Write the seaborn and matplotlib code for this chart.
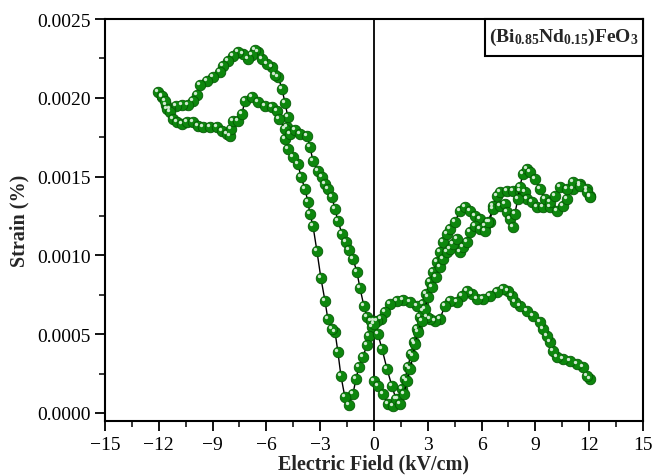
import numpy as np
import pandas as pd
import matplotlib
matplotlib.use("Agg")
import matplotlib.pyplot as plt
import matplotlib.transforms as mtransforms
from matplotlib.ticker import MultipleLocator, FormatStrFormatter
from matplotlib.patches import Rectangle
import seaborn as sns

# ---- data: first rising branch (0 -> +12 kV/cm)
e_rise1 = [0.00, 0.22, 0.50, 0.78, 1.06, 1.34, 1.56, 1.73, 1.90, 2.06, 2.23, 2.40, 2.57, 2.73,
           2.90, 3.12, 3.29, 3.51, 3.68, 3.85, 4.07, 4.24, 4.52, 4.80, 5.08, 5.35, 5.63, 5.91,
           6.19, 6.47, 6.64, 6.86, 7.03, 7.42, 7.75, 8.14, 8.42, 8.53, 8.81, 9.09, 9.43, 9.82,
           10.21, 10.54, 10.76, 11.10, 11.49, 11.88, 12.05]
s_rise1 = [0.000203, 0.000172, 0.000121, 0.000057, 0.000044, 0.000089, 0.000152, 0.000216,
           0.000292, 0.000375, 0.000451, 0.000534, 0.000610, 0.000692, 0.000756, 0.000832,
           0.000896, 0.000959, 0.001023, 0.001086, 0.001137, 0.001169, 0.001213, 0.001283,
           0.001309, 0.001283, 0.001252, 0.001232, 0.001188, 0.001213, 0.001315, 0.001379,
           0.001404, 0.001410, 0.001410, 0.001410, 0.001404, 0.001360, 0.001340, 0.001309,
           0.001309, 0.001309, 0.001283, 0.001315, 0.001360, 0.001423, 0.001455, 0.001423,
           0.001379]

# ---- data: +12 -> 0 -> -12 -> 0 -> +12 (continuous loop)
e_loop = [12.05, 11.88, 11.66, 11.32, 10.93, 10.54, 10.21, 9.98, 9.82, 9.65, 9.43, 9.26, 8.87,
          8.53, 8.14, 7.86, 7.70, 7.47, 7.19, 6.86, 6.47, 6.08, 5.74, 5.47, 5.19, 4.91, 4.63,
          4.24, 3.96, 3.68, 3.40, 3.12, 2.96, 2.73, 2.40, 2.01, 1.62, 1.28, 0.89, 0.61, 0.39,
          0.17, 0.00,
          -0.11, -0.28, -0.39, -0.61, -0.84, -1.00, -1.17, -1.39, -1.62, -1.84, -2.01, -2.17,
          -2.34, -2.57, -2.73, -2.96, -3.18, -3.40, -3.57, -3.68, -3.85, -4.07, -4.24, -4.52,
          -4.80, -4.96, -4.85, -4.80, -4.96, -5.13, -5.35, -5.52, -5.69, -5.97, -6.25, -6.47,
          -6.64, -6.80, -7.03, -7.31, -7.59, -7.86, -8.14, -8.42, -8.59, -8.98, -9.31, -9.70,
          -9.87, -10.09, -10.37, -10.71, -11.04, -11.38, -11.60, -11.82, -12.05,
          -11.82, -11.66, -11.54, -11.38, -11.21, -10.99, -10.71, -10.43, -10.09, -9.82, -9.54,
          -9.15, -8.76, -8.48, -8.20, -8.03, -7.98, -7.86, -7.59, -7.36, -7.19, -6.80, -6.47,
          -6.08, -5.69, -5.41, -5.30, -4.96, -4.68, -4.41, -4.13, -3.74, -3.57, -3.40, -3.12,
          -2.90, -2.73, -2.57, -2.34, -2.18, -2.01, -1.78, -1.56, -1.39, -1.17, -0.95, -0.78,
          -0.56, -0.39, -0.17, 0.00,
          0.22, 0.45, 0.73, 1.00, 1.23, 1.45, 1.67, 1.84, 2.01, 2.18, 2.29, 2.45, 2.68, 2.84,
          3.01, 3.23, 3.46, 3.68, 3.85, 4.07, 4.24, 4.41, 4.63, 4.80, 4.96, 5.19, 5.35, 5.63,
          5.91, 6.19, 6.36, 6.64, 7.03, 7.31, 7.42, 7.59, 7.75, 7.86, 8.03, 8.14, 8.31, 8.53,
          8.70, 8.98, 9.26, 9.54, 9.82, 10.09, 10.37, 10.76, 11.10, 11.49, 11.88, 12.05]
s_loop = [0.000216, 0.000235, 0.000292, 0.000311, 0.000330, 0.000343, 0.000356, 0.000394,
          0.000451, 0.000489, 0.000534, 0.000578, 0.000616, 0.000648, 0.000680, 0.000705,
          0.000743, 0.000775, 0.000788, 0.000769, 0.000743, 0.000724, 0.000724, 0.000756,
          0.000775, 0.000743, 0.000705, 0.000712, 0.000680, 0.000597, 0.000584, 0.000597,
          0.000610, 0.000648, 0.000680, 0.000705, 0.000718, 0.000712, 0.000692, 0.000642,
          0.000597, 0.000584, 0.000584,
          0.000546, 0.000489, 0.000432, 0.000356, 0.000292, 0.000216, 0.000121, 0.000051,
          0.000102, 0.000235, 0.000388, 0.000515, 0.000534, 0.000597, 0.000712, 0.000858,
          0.001029, 0.001188, 0.001264, 0.001340, 0.001423, 0.001499, 0.001582, 0.001626,
          0.001677, 0.001741, 0.001817, 0.001880, 0.001969, 0.002058, 0.002135, 0.002147,
          0.002198, 0.002217, 0.002249, 0.002293, 0.002306, 0.002274, 0.002249, 0.002281,
          0.002293, 0.002268, 0.002236, 0.002204, 0.002166, 0.002135, 0.002109, 0.002084,
          0.002020, 0.001982, 0.001957, 0.001957, 0.001950, 0.001931, 0.001957, 0.002008,
          0.002039,
          0.002014, 0.001982, 0.001931, 0.001912, 0.001868, 0.001849, 0.001836, 0.001849,
          0.001849, 0.001823, 0.001817, 0.001817, 0.001817, 0.001792, 0.001772, 0.001760,
          0.001804, 0.001855, 0.001855, 0.001900, 0.001982, 0.002008, 0.001976, 0.001950,
          0.001944, 0.001919, 0.001868, 0.001804, 0.001772, 0.001798, 0.001772, 0.001760,
          0.001690, 0.001601, 0.001537, 0.001499, 0.001455, 0.001423, 0.001372, 0.001296,
          0.001220, 0.001137, 0.001086, 0.001036, 0.000978, 0.000896, 0.000794, 0.000680,
          0.000610, 0.000584, 0.000565,
          0.000502, 0.000407, 0.000280, 0.000172, 0.000089, 0.000057, 0.000121, 0.000203,
          0.000280, 0.000362, 0.000438, 0.000515, 0.000584, 0.000661, 0.000737, 0.000800,
          0.000864, 0.000928, 0.000978, 0.001023, 0.001042, 0.001074, 0.001105, 0.001023,
          0.001055, 0.001086, 0.001150, 0.001188, 0.001169, 0.001156, 0.001213, 0.001296,
          0.001315, 0.001328, 0.001277, 0.001232, 0.001182, 0.001264, 0.001360, 0.001436,
          0.001518, 0.001550, 0.001531, 0.001487, 0.001423, 0.001360, 0.001340, 0.001379,
          0.001436, 0.001423, 0.001468, 0.001442, 0.001404, 0.001372]

x_ticks = [-15, -12, -9, -6, -3, 0, 3, 6, 9, 12, 15]
y_ticks = [0.0000, 0.0005, 0.0010, 0.0015, 0.0020, 0.0025]
x_label = "Electric Field (kV/cm)"
y_label = "Strain (%)"
title_text = r"(Bi$_{\mathbf{0.85}}$Nd$_{\mathbf{0.15}}$)FeO$_{\mathbf{3}}$"

sns.set_style("ticks")
plt.rcParams["font.family"] = ["Liberation Serif", "DejaVu Serif"]
plt.rcParams["mathtext.fontset"] = "custom"
plt.rcParams["mathtext.rm"] = "Liberation Serif"
plt.rcParams["mathtext.bf"] = "Liberation Serif:bold"
plt.rcParams["mathtext.it"] = "Liberation Serif:italic"

fig = plt.figure(figsize=(6.56, 4.77), dpi=100)
ax = fig.add_axes([0.160, 0.1153, 0.820, 0.8427])

ax.axvline(0, color="black", lw=1.3, zorder=1)

green = "#0d870d"
edge = "#055a05"
hl = mtransforms.offset_copy(ax.transData, fig=fig, x=-1.3, y=1.3, units="points")

for e, s in [(e_rise1, s_rise1), (e_loop, s_loop)]:
    df = pd.DataFrame({"E": e, "S": s})
    sns.lineplot(data=df, x="E", y="S", sort=False, estimator=None, ax=ax,
                 color="black", lw=1.0, marker="o", markersize=7.6,
                 markerfacecolor=green, markeredgecolor=edge, markeredgewidth=0.6,
                 zorder=3)
    ax.plot(df["E"], df["S"], ls="none", marker="o", markersize=2.4,
            markerfacecolor="#e6f5e6", markeredgewidth=0, alpha=0.9,
            transform=hl, zorder=4)

ax.set_xlim(-15, 15)
ax.set_ylim(-0.0000508, 0.0025)
ax.set_xticks(x_ticks)
ax.set_yticks(y_ticks)
ax.xaxis.set_minor_locator(MultipleLocator(1.5))
ax.yaxis.set_minor_locator(MultipleLocator(0.00025))
ax.yaxis.set_major_formatter(FormatStrFormatter("%.4f"))
ax.tick_params(which="major", direction="out", length=7, width=1.3, labelsize=14,
               colors="black", top=False, right=False)
ax.tick_params(which="minor", direction="out", length=4, width=1.3, top=False, right=False)
for sp in ax.spines.values():
    sp.set_visible(True)
    sp.set_linewidth(1.5)
    sp.set_color("black")

ax.set_xlabel(x_label, fontsize=14.5, fontweight="bold", labelpad=1)
ax.set_ylabel(y_label, fontsize=14.5, fontweight="bold", labelpad=5)

# label box sitting in the top-right corner of the axes
box = Rectangle((0.706, 0.908), 0.294, 0.092, transform=ax.transAxes,
                facecolor="white", edgecolor="black", lw=1.5, zorder=5, clip_on=False)
ax.add_patch(box)
ax.text(0.853, 0.956, title_text, transform=ax.transAxes, ha="center", va="center",
        fontsize=14, fontweight="bold", zorder=6)

fig.savefig("out.png", dpi=100)
